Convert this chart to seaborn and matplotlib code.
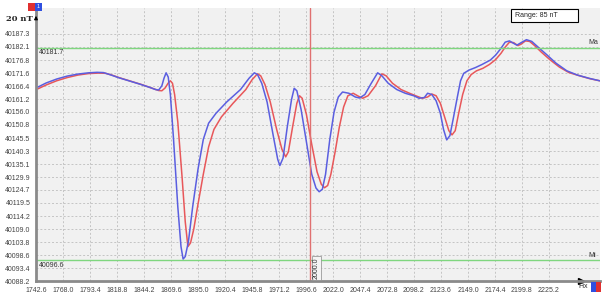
import matplotlib
matplotlib.use("Agg")
import matplotlib.pyplot as plt
import seaborn as sns
import pandas as pd
from matplotlib.patches import Rectangle

# magnetometer profile, two sensors (blue leads, red lags a few units)
blue_x = [1744.5, 1752, 1762, 1772, 1782, 1792, 1800, 1806, 1812, 1820, 1830, 1840, 1850, 1855,
          1858, 1861, 1863, 1865, 1867, 1869, 1872, 1876, 1879, 1881, 1883, 1886, 1890, 1895,
          1900, 1905, 1912, 1922, 1935, 1943, 1948, 1951, 1955, 1960, 1966, 1970, 1972, 1975,
          1979, 1983, 1985.5, 1988, 1992, 1997, 2002, 2006, 2009, 2012, 2015, 2019, 2023, 2027,
          2031, 2037, 2043, 2047, 2052, 2058, 2064, 2068, 2074, 2082, 2090, 2098, 2103, 2108,
          2111, 2115, 2119, 2123, 2126, 2129, 2132, 2135, 2139, 2142, 2145, 2150, 2156, 2162,
          2170, 2175, 2180, 2184, 2188, 2192, 2195, 2199, 2204, 2209, 2215, 2223, 2232, 2242,
          2252, 2263, 2273]
blue_nt = [40166.0, 40167.6, 40169.2, 40170.4, 40171.2, 40171.7, 40171.9, 40171.8, 40171.0,
           40169.8, 40168.5, 40167.2, 40165.8, 40165.0, 40164.8, 40166.5, 40169.5, 40171.7,
           40170.0, 40163.0, 40145.0, 40118.0, 40102.0, 40097.0, 40098.0, 40104.0, 40118.0,
           40133.0, 40145.0, 40151.5, 40155.5, 40160.0, 40165.0, 40169.5, 40171.7, 40171.0,
           40167.5, 40160.0, 40146.0, 40137.0, 40134.5, 40137.5, 40150.0, 40161.0, 40165.5,
           40164.5, 40157.0, 40144.0, 40131.0, 40125.5, 40124.0, 40125.0, 40131.0, 40145.0,
           40156.0, 40162.0, 40164.0, 40163.5, 40162.0, 40161.6, 40163.0, 40167.5, 40171.7,
           40170.5, 40167.5, 40165.0, 40163.5, 40162.5, 40161.5, 40161.8, 40163.5, 40163.0,
           40160.5, 40155.5, 40149.0, 40144.8, 40146.5, 40153.0, 40162.0, 40168.5, 40171.5,
           40172.8, 40173.8, 40175.0, 40176.8, 40178.8, 40181.5, 40184.0, 40184.5, 40183.5,
           40182.8, 40183.8, 40185.0, 40184.3, 40182.0, 40179.0, 40175.5, 40172.5, 40170.8,
           40169.5, 40168.5]

red_x = [1744.5, 1752, 1762, 1772, 1782, 1792, 1802, 1808, 1814, 1822, 1832, 1842, 1852, 1858,
         1861, 1864, 1867, 1869, 1871, 1873, 1876, 1880, 1883, 1885.5, 1888, 1891, 1895, 1900,
         1905, 1910, 1917, 1928, 1940, 1946, 1951, 1954, 1958, 1963, 1969, 1974, 1977.5, 1980,
         1984, 1988, 1990.5, 1993, 1997, 2002, 2007, 2011, 2014, 2017, 2020, 2024, 2028, 2032,
         2036, 2041, 2046, 2050, 2055, 2062, 2068, 2072, 2078, 2086, 2094, 2101, 2106, 2111,
         2115, 2119, 2123, 2127, 2131, 2134, 2137, 2140, 2144, 2148, 2152, 2157, 2163, 2169,
         2175, 2180, 2184, 2188, 2192, 2196, 2199, 2203, 2207, 2212, 2218, 2226, 2235, 2244,
         2254, 2264, 2273]
red_nt = [40165.3, 40166.8, 40168.5, 40169.8, 40170.8, 40171.4, 40171.6, 40171.5, 40170.8,
          40169.6, 40168.3, 40167.0, 40165.5, 40164.6, 40164.5, 40165.6, 40167.6, 40168.5,
          40167.5, 40163.0, 40152.0, 40130.0, 40112.0, 40102.0, 40103.5, 40109.0, 40119.0,
          40131.0, 40142.0, 40149.0, 40154.0, 40159.5, 40165.0, 40169.0, 40171.3, 40170.5,
          40167.0, 40160.0, 40149.0, 40141.0, 40138.0, 40140.0, 40150.0, 40159.5, 40162.5,
          40161.5, 40155.0, 40143.0, 40132.0, 40127.0, 40125.6, 40126.5, 40131.0, 40140.0,
          40150.0, 40158.0, 40162.5, 40163.5, 40162.3, 40161.5, 40162.5, 40166.5, 40171.3,
          40170.5, 40167.5, 40165.0, 40163.5, 40162.3, 40161.5, 40162.0, 40163.2, 40162.5,
          40159.5, 40154.0, 40148.5, 40146.8, 40148.5, 40155.0, 40163.0, 40168.5, 40171.0,
          40172.5, 40173.5, 40175.0, 40177.0, 40179.5, 40182.0, 40184.0, 40183.8, 40182.6,
          40183.2, 40184.5, 40184.3, 40182.5, 40180.0, 40177.0, 40174.0, 40171.8, 40170.5,
          40169.3, 40168.5]

x_ticks = [1742.6, 1768.0, 1793.4, 1818.8, 1844.2, 1869.6, 1895.0, 1920.4, 1945.8, 1971.2,
           1996.6, 2022.0, 2047.4, 2072.8, 2098.2, 2123.6, 2149.0, 2174.4, 2199.8, 2225.2]
y_ticks = [40187.3, 40182.1, 40176.8, 40171.6, 40166.4, 40161.2, 40156.0, 40150.8, 40145.5,
           40140.3, 40135.1, 40129.9, 40124.7, 40119.5, 40114.2, 40109.0, 40103.8, 40098.6,
           40093.4, 40088.2]

max_level = 40181.7
min_level = 40096.6
cursor_x = 2000.0
range_text = "Range: 85 nT"

sns.set_style("white")
plt.rcParams["font.family"] = ["Liberation Sans", "DejaVu Sans"]

W, H = 602, 293
fig = plt.figure(figsize=(W / 100, H / 100), dpi=100)
ax = fig.add_axes([36 / W, (H - 281) / H, 564 / W, 273 / H])
ax.set_facecolor("#f1f1f1")

df_blue = pd.DataFrame({"x": blue_x, "nT": blue_nt})
df_red = pd.DataFrame({"x": red_x, "nT": red_nt})
sns.lineplot(data=df_red, x="x", y="nT", color="#e8575a", linewidth=1.1, ax=ax, sort=False)
sns.lineplot(data=df_blue, x="x", y="nT", color="#5a5ee0", linewidth=1.1, ax=ax, sort=False)

ax.set_xlim(1742.6, 2273.2)
ax.set_ylim(40088.2, 40197.7)
ax.set_xticks(x_ticks)
ax.set_xticklabels([f"{v:.1f}" for v in x_ticks])
ax.set_yticks(y_ticks)
ax.set_yticklabels([f"{v:.1f}" for v in y_ticks])
ax.set_xlabel("")
ax.set_ylabel("")
ax.tick_params(axis="both", labelsize=5, colors="#444444", length=2, pad=2)
ax.grid(True, linestyle=(0, (2, 2)), color="#c4c4c4", linewidth=0.7)

for s in ["top", "right"]:
    ax.spines[s].set_visible(False)
for s in ["left", "bottom"]:
    ax.spines[s].set_color("#8a8a8a")
    ax.spines[s].set_linewidth(2)

# max / min reference lines
ax.axhline(max_level, color="#7fd67f", linewidth=1)
ax.axhline(min_level, color="#7fd67f", linewidth=1)
ax.text(1745, max_level - 0.6, f"{max_level:.1f}", fontsize=5, color="#333333", va="top")
ax.text(1745, min_level - 0.6, f"{min_level:.1f}", fontsize=5, color="#333333", va="top")
ax.text(2262, max_level + 0.6, "Ma", fontsize=5, color="#333333", va="bottom")
ax.text(2262, min_level + 0.6, "Mi", fontsize=5, color="#333333", va="bottom")

# cursor
ax.axvline(cursor_x, color="#e07070", linewidth=1)
ax.text(cursor_x + 3, 40089.2, f"{cursor_x:.1f}", rotation=90, fontsize=5, color="#333333",
        va="bottom", ha="left",
        bbox=dict(boxstyle="square,pad=0.15", fc="#f4f4f4", ec="#888888", lw=0.5))

# range box
fig.patches.append(Rectangle((511 / W, (H - 22) / H), 67 / W, 13 / H, transform=fig.transFigure,
                             fc="white", ec="black", lw=0.8))
fig.text(515 / W, (H - 15.5) / H, range_text, fontsize=5, va="center", ha="left")

# axis decorations
fig.text(6 / W, (H - 19) / H, "20 nT", fontsize=6, fontweight="bold", family="DejaVu Serif",
         va="center", ha="left")
fig.patches.append(Rectangle((28 / W, (H - 11) / H), 7 / W, 8 / H, transform=fig.transFigure,
                             fc="#e03030", ec="none"))
fig.patches.append(Rectangle((35 / W, (H - 11) / H), 7 / W, 8 / H, transform=fig.transFigure,
                             fc="#2f4fe0", ec="none"))
fig.text(38.5 / W, (H - 7) / H, "1", fontsize=4, color="white", ha="center", va="center")
ax.annotate("", xy=(36, H - 13), xytext=(36, H - 22), xycoords="figure pixels",
            arrowprops=dict(arrowstyle="-|>", color="black", lw=0.8, mutation_scale=5))
ax.plot([2255], [40088.2], marker=">", color="black", markersize=4, clip_on=False)
fig.text(578 / W, (H - 290) / H, "Fix", fontsize=5, va="bottom", ha="left")
fig.patches.append(Rectangle((591 / W, 1 / H), 5 / W, 10 / H, transform=fig.transFigure,
                             fc="#2f4fe0", ec="none"))
fig.patches.append(Rectangle((596 / W, 1 / H), 5 / W, 10 / H, transform=fig.transFigure,
                             fc="#e03030", ec="none"))

fig.savefig("out.png", dpi=100)
